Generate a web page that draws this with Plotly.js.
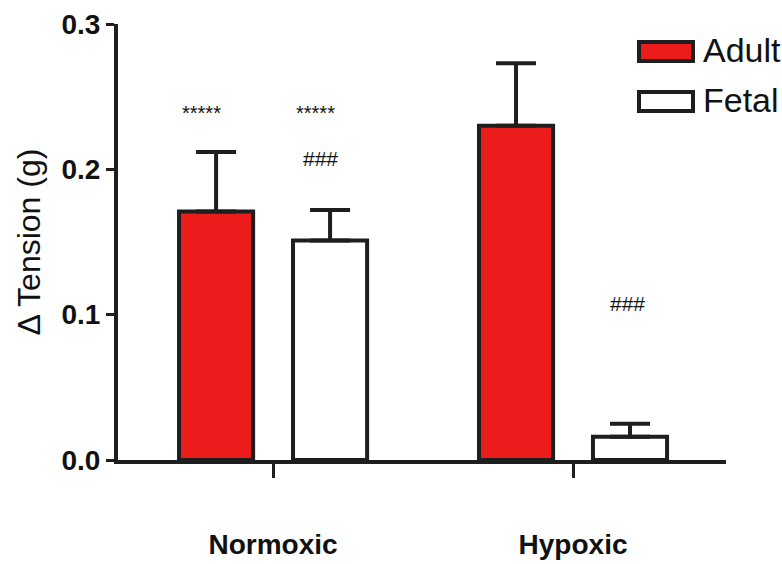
<!DOCTYPE html>
<html>
<head>
<meta charset="utf-8">
<script src="https://cdn.plot.ly/plotly-3.0.1.min.js"></script>
<style>html,body{margin:0;padding:0;background:#fff;}#chart{width:782px;height:564px;}</style>
</head>
<body>
<div id="chart"></div>
<script>
// ---- data ----
const categories = ['Normoxic', 'Hypoxic'];
const seriesNames = ['Adult', 'Fetal'];
const adultMean = [0.171, 0.230];
const adultSEM = [0.041, 0.043];
const fetalMean = [0.151, 0.016];
const fetalSEM = [0.021, 0.009];
const yTickVals = [0.0, 0.1, 0.2, 0.3];
const yTickText = ['0.0', '0.1', '0.2', '0.3'];

const edge = '#1e1e1e';
const red = '#ec1c1c';
const font = 'Liberation Sans, Arial, sans-serif';

// plot-area pixel box (for legend placement)
const L = 118, R = 726, T = 24, B = 460;
const px = x => (x - L) / (R - L);
const py = y => (B - y) / (B - T);

const traces = [
  {
    type: 'bar', name: seriesNames[0], x: categories, y: adultMean,
    marker: {color: red, line: {color: edge, width: 4}},
    error_y: {type: 'data', array: adultSEM, arrayminus: adultSEM.map(() => 0), symmetric: false,
              color: edge, thickness: 4, width: 20},
    showlegend: false
  },
  {
    type: 'bar', name: seriesNames[1], x: categories, y: fetalMean,
    marker: {color: '#ffffff', line: {color: edge, width: 4}},
    error_y: {type: 'data', array: fetalSEM, arrayminus: fetalSEM.map(() => 0), symmetric: false,
              color: edge, thickness: 4, width: 20},
    showlegend: false
  }
];

const legendShapes = [
  {type: 'rect', xref: 'paper', yref: 'paper', x0: px(639), x1: px(693), y0: py(42), y1: py(61),
   fillcolor: red, line: {color: edge, width: 4}},
  {type: 'rect', xref: 'paper', yref: 'paper', x0: px(639), x1: px(693), y0: py(92), y1: py(111),
   fillcolor: '#ffffff', line: {color: edge, width: 4}}
];

const annotations = [
  {xref: 'paper', yref: 'paper', x: px(701), y: py(50), text: seriesNames[0], showarrow: false,
   xanchor: 'left', yanchor: 'middle', font: {family: font, size: 34, color: '#111'}},
  {xref: 'paper', yref: 'paper', x: px(701), y: py(100), text: seriesNames[1], showarrow: false,
   xanchor: 'left', yanchor: 'middle', font: {family: font, size: 34, color: '#111'}},
  {x: -0.24, y: 0.2388, text: '*****', showarrow: false, yanchor: 'middle',
   font: {family: font, size: 20, color: '#111'}},
  {x: 0.143, y: 0.2388, text: '*****', showarrow: false, yanchor: 'middle',
   font: {family: font, size: 20, color: '#111'}},
  {x: 0.157, y: 0.2075, text: '###', showarrow: false, yanchor: 'middle',
   font: {family: font, size: 21, color: '#111'}},
  {x: 1.183, y: 0.108, text: '###', showarrow: false, yanchor: 'middle',
   font: {family: font, size: 21, color: '#111'}}
];

const layout = {
  width: 782, height: 564,
  margin: {l: L, r: 782 - R, t: T, b: 564 - B},
  paper_bgcolor: '#ffffff', plot_bgcolor: '#ffffff',
  barmode: 'group', bargap: 0.24, bargroupgap: 0.35,
  showlegend: false,
  xaxis: {
    type: 'category', range: [-0.517, 1.510],
    showline: true, linecolor: edge, linewidth: 4,
    ticks: 'outside', ticklen: 14, tickwidth: 3, tickcolor: edge,
    showgrid: false, zeroline: false,
    ticklabelstandoff: 42,
    tickfont: {family: font, size: 28, color: '#111', weight: 'bold'}
  },
  yaxis: {
    range: [0, 0.3], tickvals: yTickVals, ticktext: yTickText,
    showline: true, linecolor: edge, linewidth: 4,
    ticks: 'outside', ticklen: 8, tickwidth: 3, tickcolor: edge,
    showgrid: false, zeroline: false,
    tickfont: {family: font, size: 28, color: '#111', weight: 'bold'},
    title: {text: '\u0394 Tension (g)', standoff: 12, font: {family: font, size: 32, color: '#111'}}
  },
  shapes: legendShapes,
  annotations: annotations
};

Plotly.newPlot('chart', traces, layout, {displayModeBar: false, staticPlot: true});
</script>
</body>
</html>
